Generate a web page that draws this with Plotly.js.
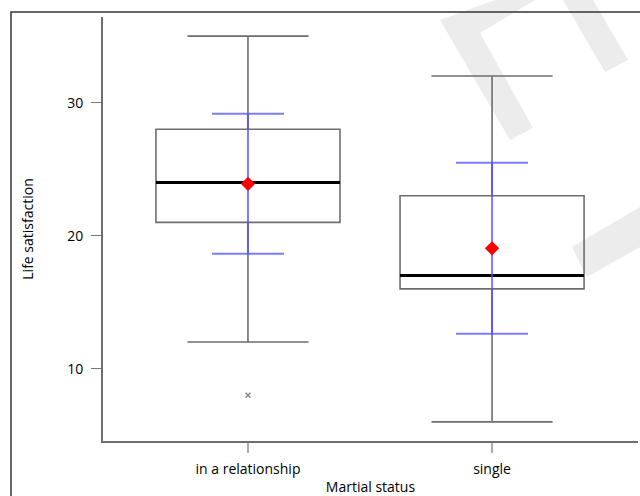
<!DOCTYPE html>
<html>
<head>
<meta charset="utf-8">
<script src="https://cdn.plot.ly/plotly-3.0.1.min.js"></script>
<style>html,body{margin:0;padding:0;background:#fff;}#chart{width:640px;height:496px;}</style>
</head>
<body>
<div id="chart"></div>
<script>
// ---- data ----
var categories = ["in a relationship", "single"];
var q1 = [21, 16];
var medians = [24, 17];
var q3 = [28, 23];
var lowerWhisker = [12, 6];
var upperWhisker = [35, 32];
var means = [23.9, 19.05];
var sds = [5.27, 6.43];
var outlierCategory = [0];
var outlierValues = [8];
var yTicks = [10, 20, 30];

// ---- layout helpers ----
var L = 103, R = 638, T = 17, B = 441;
function px(x) { return (x - L) / (R - L); }
function py(y) { return (B - y) / (B - T); }
function path(pts) {
  return 'M' + pts.map(function (p) { return px(p[0]) + ',' + py(p[1]); }).join(' L') + ' Z';
}

var positions = categories.map(function (c, i) { return i; });
var boxWidth = 0.754;

var medX = [], medY = [];
positions.forEach(function (p, i) {
  medX.push(p - boxWidth / 2, p + boxWidth / 2, null);
  medY.push(medians[i], medians[i], null);
});

var traces = [
  {
    type: 'box',
    x: positions,
    q1: q1, median: medians, q3: q3,
    lowerfence: lowerWhisker, upperfence: upperWhisker,
    width: boxWidth,
    whiskerwidth: 0.658,
    boxpoints: false,
    line: { color: '#6e6e6e', width: 1.6 },
    fillcolor: 'rgba(0,0,0,0)',
    hoverinfo: 'skip',
    showlegend: false
  },
  {
    type: 'scatter', mode: 'lines',
    x: medX, y: medY,
    line: { color: '#000', width: 3 },
    hoverinfo: 'skip', showlegend: false
  },
  {
    type: 'scatter', mode: 'markers',
    x: outlierCategory, y: outlierValues,
    marker: { symbol: 'x-thin', size: 5, line: { color: '#888', width: 1.5 } },
    hoverinfo: 'skip', showlegend: false
  },
  {
    type: 'scatter', mode: 'markers',
    x: positions, y: means,
    error_y: { type: 'data', array: sds, visible: true, color: 'rgba(80,80,255,0.75)', thickness: 2, width: 36 },
    marker: { symbol: 'diamond', size: 11, color: '#ff0000' },
    hoverinfo: 'skip', showlegend: false
  }
];

var wm = '#ececec';
var layout = {
  width: 640, height: 496,
  margin: { l: L, r: 640 - R, t: T, b: 496 - B },
  paper_bgcolor: '#fff', plot_bgcolor: 'rgba(0,0,0,0)',
  font: { family: '"Open Sans", sans-serif', size: 14, color: '#000' },
  showlegend: false,
  xaxis: {
    range: [-0.594, 1.598],
    tickvals: positions, ticktext: categories,
    showline: true, linecolor: '#6e6e6e', linewidth: 2,
    ticks: 'outside', ticklen: 10, tickcolor: '#aaa', tickwidth: 1.5,
    ticklabelstandoff: 4,
    showgrid: false, zeroline: false,
    title: { text: 'Martial status', standoff: 8, font: { size: 14 } }
  },
  yaxis: {
    range: [4.56, 36.44],
    tickvals: yTicks,
    showline: true, linecolor: '#6e6e6e', linewidth: 2,
    ticks: 'outside', ticklen: 10, tickcolor: '#777', tickwidth: 1.5,
    ticklabelstandoff: 5,
    showgrid: false, zeroline: false,
    title: { text: 'Life satisfaction', standoff: 30, font: { size: 14 } }
  },
  shapes: [
    { type: 'path', xref: 'paper', yref: 'paper', layer: 'below', line: { width: 0 }, fillcolor: wm,
      path: path([[440, 20], [510, 140], [533, 128], [480, 33], [535, 0], [495, 0]]) },
    { type: 'path', xref: 'paper', yref: 'paper', layer: 'below', line: { width: 0 }, fillcolor: wm,
      path: path([[563, 0], [605, 72], [628, 60], [593, 0]]) },
    { type: 'path', xref: 'paper', yref: 'paper', layer: 'below', line: { width: 0 }, fillcolor: wm,
      path: path([[572, 247], [640, 207], [640, 247], [587, 277]]) },
    { type: 'rect', xref: 'paper', yref: 'paper', layer: 'below',
      x0: px(11), x1: px(700), y0: py(12), y1: py(600),
      line: { color: '#333', width: 1.5 }, fillcolor: 'rgba(0,0,0,0)' }
  ]
};

Plotly.newPlot('chart', traces, layout, { staticPlot: true, displayModeBar: false });
</script>
</body>
</html>
